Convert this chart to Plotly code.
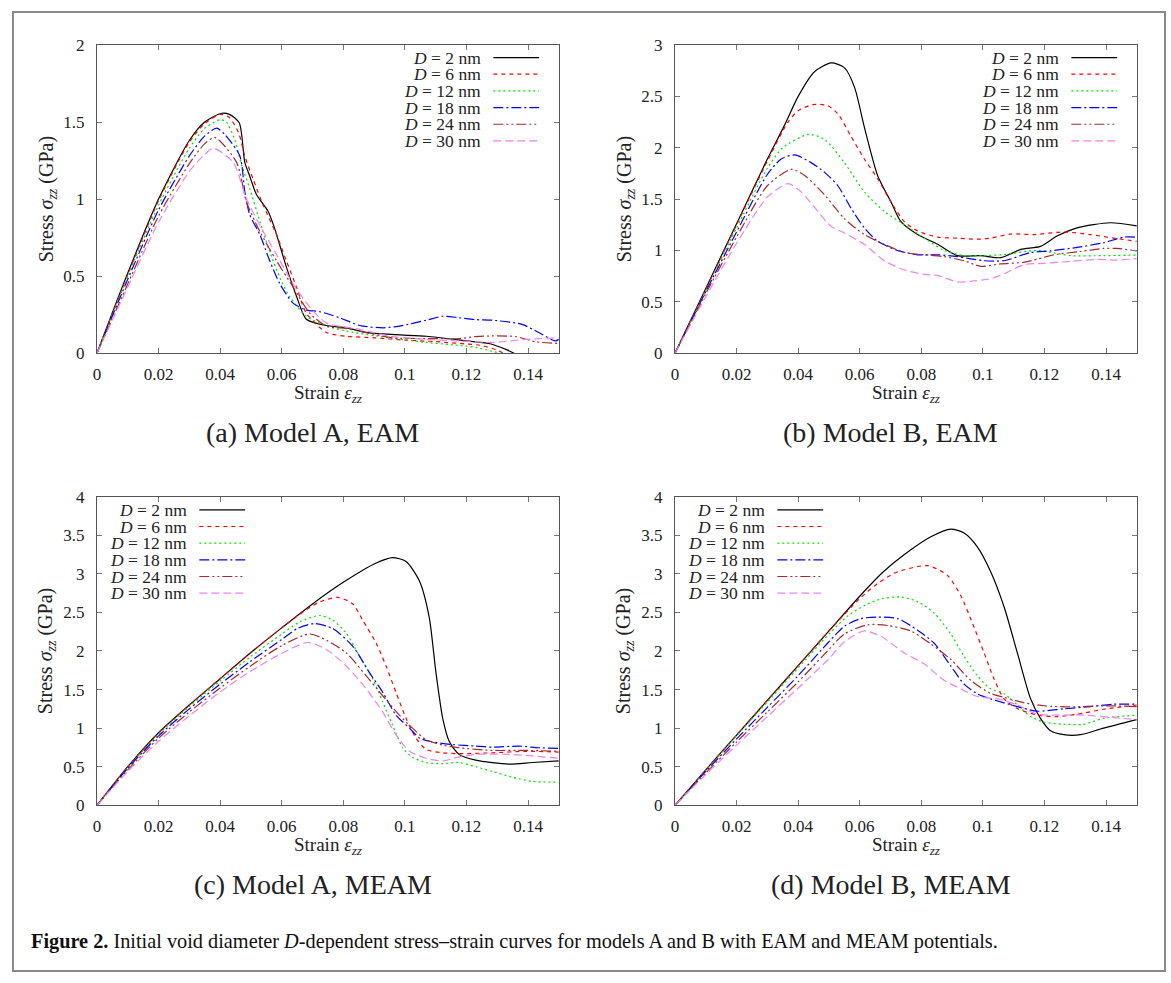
import plotly.graph_objects as go

# ---------------- data (strain, stress GPa) ----------------
labels = ["2", "6", "12", "18", "24", "30"]

a_d2 = [(0,0),(0.01,0.52),(0.02,1.0),(0.03,1.38),(0.035,1.50),(0.0405,1.557),(0.043,1.55),(0.0462,1.495),(0.048,1.24),(0.0496,1.15),(0.0518,1.03),(0.0556,0.92),(0.0577,0.81),(0.0615,0.56),(0.0648,0.37),(0.068,0.22),(0.0745,0.18),(0.081,0.165),(0.0874,0.135),(0.097,0.12),(0.107,0.11),(0.12,0.08),(0.128,0.06),(0.133,0.023),(0.1355,0)]
a_d6 = [(0,0),(0.01,0.51),(0.02,0.99),(0.03,1.37),(0.035,1.49),(0.04,1.55),(0.043,1.53),(0.046,1.43),(0.048,1.28),(0.0507,1.13),(0.054,0.96),(0.0583,0.77),(0.0615,0.60),(0.0648,0.43),(0.068,0.26),(0.0745,0.135),(0.081,0.11),(0.09,0.10),(0.1,0.085),(0.11,0.075),(0.12,0.06),(0.125,0.05),(0.13,0.02),(0.132,0)]
a_d12 = [(0,0),(0.01,0.50),(0.02,0.96),(0.03,1.33),(0.035,1.46),(0.040,1.515),(0.042,1.50),(0.0445,1.40),(0.047,1.22),(0.0496,1.07),(0.0529,0.855),(0.0561,0.66),(0.0594,0.49),(0.0626,0.367),(0.068,0.24),(0.0745,0.176),(0.081,0.144),(0.0907,0.112),(0.107,0.07),(0.118,0.05),(0.1231,0.038),(0.1285,0.012),(0.131,0)]
a_d18 = [(0,0),(0.01,0.48),(0.02,0.93),(0.03,1.28),(0.035,1.41),(0.0389,1.46),(0.0415,1.42),(0.0464,1.28),(0.048,1.05),(0.0496,0.90),(0.0529,0.77),(0.0561,0.60),(0.0594,0.45),(0.0637,0.325),(0.068,0.28),(0.0723,0.27),(0.0788,0.23),(0.0853,0.18),(0.0928,0.165),(0.0982,0.176),(0.1069,0.214),(0.1123,0.24),(0.1176,0.23),(0.123,0.218),(0.1284,0.214),(0.1381,0.187),(0.1435,0.134),(0.1489,0.08),(0.15,0.09)]
a_d24 = [(0,0),(0.01,0.45),(0.02,0.89),(0.03,1.23),(0.035,1.36),(0.0383,1.40),(0.0453,1.24),(0.0486,0.98),(0.0529,0.79),(0.0583,0.60),(0.0637,0.43),(0.0691,0.26),(0.0745,0.176),(0.081,0.16),(0.0874,0.134),(0.096,0.10),(0.1069,0.095),(0.1177,0.095),(0.123,0.108),(0.1284,0.112),(0.136,0.108),(0.1425,0.074),(0.15,0.064)]
a_d30 = [(0,0),(0.01,0.43),(0.02,0.85),(0.03,1.18),(0.035,1.29),(0.0378,1.33),(0.0442,1.24),(0.0486,1.0),(0.0529,0.83),(0.0583,0.64),(0.0637,0.45),(0.0691,0.30),(0.0745,0.197),(0.0853,0.155),(0.096,0.108),(0.1069,0.09),(0.1177,0.08),(0.1284,0.07),(0.1392,0.09),(0.15,0.10)]

b_d2 = [(0,0),(0.01,0.63),(0.02,1.26),(0.03,1.89),(0.0356,2.22),(0.040,2.50),(0.0453,2.74),(0.0507,2.825),(0.055,2.78),(0.0583,2.59),(0.0615,2.2),(0.0658,1.73),(0.0702,1.47),(0.0734,1.28),(0.0788,1.155),(0.0853,1.06),(0.0917,0.95),(0.0993,0.95),(0.1058,0.93),(0.1123,1.01),(0.1187,1.04),(0.1241,1.14),(0.1306,1.22),(0.1414,1.27),(0.15,1.24)]
b_d6 = [(0,0),(0.01,0.62),(0.02,1.25),(0.03,1.87),(0.0367,2.25),(0.040,2.36),(0.0448,2.42),(0.0496,2.41),(0.0529,2.33),(0.0572,2.11),(0.0615,1.89),(0.0658,1.70),(0.0702,1.47),(0.0745,1.28),(0.0788,1.19),(0.0853,1.13),(0.0917,1.12),(0.0982,1.11),(0.1025,1.12),(0.109,1.16),(0.1166,1.155),(0.1263,1.18),(0.1349,1.155),(0.1425,1.12),(0.15,1.09)]
b_d12 = [(0,0),(0.01,0.61),(0.02,1.22),(0.03,1.80),(0.035,2.0),(0.0434,2.13),(0.0486,2.08),(0.055,1.855),(0.0615,1.57),(0.068,1.38),(0.0745,1.25),(0.081,1.12),(0.0874,1.0),(0.0939,0.95),(0.1004,0.95),(0.1069,0.96),(0.1177,1.0),(0.1284,0.95),(0.1392,0.95),(0.15,0.955)]
b_d18 = [(0,0),(0.01,0.60),(0.02,1.18),(0.03,1.74),(0.0345,1.89),(0.0389,1.93),(0.0442,1.855),(0.0486,1.76),(0.0529,1.63),(0.0572,1.41),(0.0615,1.22),(0.0658,1.09),(0.0723,1.0),(0.0788,0.958),(0.0853,0.958),(0.0917,0.94),(0.1004,0.90),(0.1069,0.90),(0.1155,0.98),(0.122,0.996),(0.1306,1.03),(0.1392,1.075),(0.1457,1.13),(0.15,1.13)]
b_d24 = [(0,0),(0.01,0.58),(0.02,1.13),(0.03,1.63),(0.0378,1.79),(0.0421,1.73),(0.0486,1.54),(0.055,1.31),(0.0615,1.155),(0.068,1.06),(0.0745,0.98),(0.081,0.958),(0.0874,0.94),(0.0939,0.90),(0.0993,0.846),(0.1058,0.87),(0.1133,0.885),(0.1177,0.916),(0.123,0.958),(0.1317,0.99),(0.1392,1.02),(0.1435,1.02),(0.15,0.996)]
b_d30 = [(0,0),(0.01,0.55),(0.02,1.07),(0.03,1.52),(0.0367,1.65),(0.041,1.57),(0.0464,1.38),(0.0507,1.235),(0.055,1.17),(0.0615,1.06),(0.068,0.90),(0.0745,0.81),(0.081,0.767),(0.0853,0.757),(0.0917,0.694),(0.096,0.70),(0.1025,0.725),(0.1069,0.773),(0.1133,0.862),(0.1198,0.875),(0.1284,0.894),(0.1371,0.913),(0.1435,0.907),(0.15,0.92)]

c_d2 = [(0,0),(0.01,0.50),(0.02,0.94),(0.03,1.30),(0.04,1.64),(0.05,1.98),(0.06,2.30),(0.07,2.61),(0.08,2.89),(0.0907,3.14),(0.096,3.21),(0.1004,3.16),(0.1047,2.91),(0.1079,2.44),(0.1101,1.72),(0.1123,1.127),(0.1144,0.83),(0.1176,0.66),(0.123,0.585),(0.1338,0.534),(0.1414,0.555),(0.15,0.576)]
c_d6 = [(0,0),(0.01,0.50),(0.02,0.94),(0.03,1.30),(0.04,1.64),(0.05,1.98),(0.06,2.30),(0.066,2.48),(0.072,2.63),(0.0782,2.695),(0.0831,2.61),(0.0863,2.40),(0.0907,2.10),(0.0939,1.805),(0.0971,1.466),(0.1004,1.127),(0.1036,0.873),(0.1069,0.725),(0.1123,0.68),(0.1176,0.67),(0.1284,0.68),(0.1392,0.70),(0.15,0.69)]
c_d12 = [(0,0),(0.01,0.49),(0.02,0.92),(0.03,1.28),(0.04,1.61),(0.05,1.93),(0.06,2.22),(0.066,2.38),(0.0723,2.46),(0.0766,2.40),(0.081,2.23),(0.0853,1.93),(0.0896,1.636),(0.0928,1.34),(0.096,1.04),(0.0993,0.746),(0.1025,0.62),(0.1069,0.555),(0.1123,0.54),(0.1176,0.555),(0.123,0.50),(0.1284,0.44),(0.1349,0.364),(0.1414,0.31),(0.15,0.30)]
c_d18 = [(0,0),(0.01,0.48),(0.02,0.90),(0.03,1.25),(0.04,1.57),(0.05,1.87),(0.06,2.15),(0.065,2.29),(0.0707,2.356),(0.0766,2.29),(0.0831,2.06),(0.0885,1.72),(0.0928,1.466),(0.0971,1.17),(0.1015,1.0),(0.1047,0.873),(0.1079,0.83),(0.1155,0.788),(0.123,0.767),(0.1284,0.754),(0.1371,0.767),(0.1435,0.746),(0.15,0.737)]
c_d24 = [(0,0),(0.01,0.46),(0.02,0.87),(0.03,1.21),(0.04,1.52),(0.05,1.81),(0.06,2.07),(0.069,2.22),(0.0745,2.14),(0.081,1.975),(0.0874,1.68),(0.0928,1.42),(0.0982,1.17),(0.1025,1.0),(0.1069,0.85),(0.1123,0.78),(0.1176,0.746),(0.1284,0.712),(0.1392,0.712),(0.15,0.70)]
c_d30 = [(0,0),(0.01,0.44),(0.02,0.83),(0.03,1.16),(0.04,1.47),(0.05,1.74),(0.06,1.97),(0.0685,2.11),(0.0745,2.02),(0.081,1.805),(0.0874,1.51),(0.0928,1.21),(0.0971,0.915),(0.1015,0.70),(0.1069,0.61),(0.1123,0.576),(0.1176,0.627),(0.123,0.66),(0.1338,0.66),(0.1414,0.64),(0.15,0.61)]

d_d2 = [(0,0),(0.01,0.46),(0.02,0.91),(0.03,1.36),(0.04,1.81),(0.05,2.26),(0.06,2.71),(0.0675,3.02),(0.0745,3.25),(0.0831,3.48),(0.0896,3.58),(0.0939,3.53),(0.0982,3.35),(0.1025,3.03),(0.1069,2.57),(0.1112,1.975),(0.1155,1.38),(0.1187,1.127),(0.122,0.966),(0.1263,0.915),(0.1317,0.915),(0.1392,1.0),(0.15,1.11)]
d_d6 = [(0,0),(0.01,0.46),(0.02,0.91),(0.03,1.36),(0.04,1.81),(0.05,2.26),(0.06,2.68),(0.066,2.88),(0.072,3.02),(0.082,3.106),(0.0885,2.98),(0.0928,2.72),(0.0971,2.31),(0.1004,1.975),(0.1036,1.64),(0.1069,1.38),(0.1112,1.254),(0.1176,1.17),(0.1241,1.15),(0.1306,1.18),(0.1392,1.245),(0.15,1.30)]
d_d12 = [(0,0),(0.01,0.45),(0.02,0.90),(0.03,1.34),(0.04,1.78),(0.05,2.22),(0.056,2.45),(0.062,2.60),(0.0675,2.68),(0.0734,2.70),(0.0788,2.64),(0.0842,2.49),(0.0896,2.22),(0.0939,1.93),(0.0982,1.68),(0.1025,1.51),(0.1069,1.445),(0.1112,1.30),(0.1155,1.15),(0.1198,1.08),(0.1263,1.05),(0.1327,1.05),(0.1392,1.127),(0.15,1.17)]
d_d18 = [(0,0),(0.01,0.44),(0.02,0.86),(0.03,1.27),(0.04,1.68),(0.05,2.12),(0.055,2.32),(0.0604,2.42),(0.0658,2.44),(0.0723,2.42),(0.0788,2.27),(0.0842,2.10),(0.0896,1.805),(0.0939,1.57),(0.0982,1.445),(0.1025,1.38),(0.1112,1.28),(0.1176,1.22),(0.1263,1.25),(0.1349,1.28),(0.1425,1.31),(0.15,1.31)]
d_d24 = [(0,0),(0.01,0.42),(0.02,0.82),(0.03,1.21),(0.04,1.60),(0.05,2.02),(0.055,2.22),(0.0626,2.34),(0.0691,2.33),(0.0766,2.26),(0.0831,2.09),(0.0896,1.89),(0.096,1.62),(0.1025,1.45),(0.1069,1.40),(0.1133,1.33),(0.1198,1.29),(0.1284,1.275),(0.1392,1.29),(0.15,1.28)]
d_d30 = [(0,0),(0.01,0.40),(0.02,0.78),(0.03,1.15),(0.04,1.52),(0.05,1.90),(0.055,2.12),(0.0615,2.26),(0.0669,2.19),(0.0745,1.975),(0.081,1.83),(0.0874,1.62),(0.0928,1.51),(0.0982,1.41),(0.1047,1.38),(0.1112,1.30),(0.1176,1.18),(0.1241,1.17),(0.1327,1.17),(0.1414,1.14),(0.15,1.11)]

panel_curves = [
    [a_d2, a_d6, a_d12, a_d18, a_d24, a_d30],
    [b_d2, b_d6, b_d12, b_d18, b_d24, b_d30],
    [c_d2, c_d6, c_d12, c_d18, c_d24, c_d30],
    [d_d2, d_d6, d_d12, d_d18, d_d24, d_d30],
]
panel_titles = ["(a) Model A, EAM", "(b) Model B, EAM", "(c) Model A, MEAM", "(d) Model B, MEAM"]
y_max = [2, 3, 4, 4]
y_ticks = [[0, 0.5, 1, 1.5, 2], [0, 0.5, 1, 1.5, 2, 2.5, 3],
           [0, 0.5, 1, 1.5, 2, 2.5, 3, 3.5, 4], [0, 0.5, 1, 1.5, 2, 2.5, 3, 3.5, 4]]
x_ticks = [0, 0.02, 0.04, 0.06, 0.08, 0.1, 0.12, 0.14]

# ---------------- styles ----------------
colors = ["#000000", "#ff0000", "#00e000", "#0000ff", "#a52a2a", "#ee82ee"]
dashes = ["solid", "4px,4px", "2px,3px", "10px,3px,2px,3px", "10px,3px,2px,3px,2px,3px", "8px,4px"]

W, H = 1171, 983
SERIF = "Liberation Serif"


def px(x):
    return x / W


def py(y):
    return 1 - y / H


# panel pixel boxes: left, right, top, bottom
boxes = [(93.3, 556.7, 36.7, 351), (673.3, 1136.7, 36.7, 351),
         (93.3, 556.7, 497.3, 812), (673.3, 1136.7, 497.3, 812)]
# legend: text right edge, line start, line end, first row y
legend_pos = [(481, 491, 537, 49.5), (1061, 1071, 1117, 49.5),
              (186, 196, 242, 510.7), (766, 776, 822, 510.7)]
legend_dy = 17

fig = go.Figure()
shapes = []
annotations = []

for p in range(4):
    ax = "" if p == 0 else str(p + 1)
    L, R, T, B = boxes[p]
    fig.update_layout(**{
        "xaxis" + ax: dict(domain=[px(L), px(R)], range=[0, 0.15], anchor="y" + ax,
                           tickvals=x_ticks, ticks="inside", ticklen=5, tickcolor="#777",
                           showline=True, linecolor="#555", linewidth=1, mirror="ticks",
                           showgrid=False, zeroline=False,
                           tickfont=dict(family=SERIF, size=17, color="#222"),
                           ticklabelstandoff=5),
        "yaxis" + ax: dict(domain=[py(B), py(T)], range=[0, y_max[p]], anchor="x" + ax,
                           tickvals=y_ticks[p], ticks="inside", ticklen=5, tickcolor="#777",
                           showline=True, linecolor="#555", linewidth=1, mirror="ticks",
                           showgrid=False, zeroline=False,
                           tickfont=dict(family=SERIF, size=17, color="#222"),
                           ticklabelstandoff=8),
    })
    for i, curve in enumerate(panel_curves[p]):
        fig.add_trace(go.Scatter(
            x=[pt[0] for pt in curve], y=[pt[1] for pt in curve],
            mode="lines", xaxis="x" + ax, yaxis="y" + ax,
            line=dict(color=colors[i], width=1.2, dash=dashes[i], shape="spline", smoothing=0.7),
            showlegend=False, hoverinfo="skip"))
    # manual legend (text left of sample line, as in the original)
    tx, l0, l1, y0 = legend_pos[p]
    for i, lab in enumerate(labels):
        yy = y0 + i * legend_dy
        annotations.append(dict(text="<i>D</i> = " + lab + " nm", x=px(tx), y=py(yy),
                                xref="paper", yref="paper", xanchor="right", yanchor="middle",
                                showarrow=False, font=dict(family=SERIF, size=17.5, color="#222")))
        shapes.append(dict(type="line", xref="paper", yref="paper", x0=px(l0), x1=px(l1),
                           y0=py(yy), y1=py(yy),
                           line=dict(color=colors[i], width=1.2, dash=dashes[i])))
    # axis titles
    cx = (L + R) / 2
    annotations.append(dict(text="Strain <i>ε</i><sub><i>zz</i></sub>", x=px(cx), y=py(B + 42),
                            xref="paper", yref="paper", xanchor="center", yanchor="middle",
                            showarrow=False, font=dict(family=SERIF, size=19, color="#222")))
    annotations.append(dict(text="Stress <i>σ</i><sub><i>zz</i></sub> (GPa)", x=px(L - 50),
                            y=py((T + B) / 2), xref="paper", yref="paper", textangle=-90,
                            xanchor="center", yanchor="middle", showarrow=False,
                            font=dict(family=SERIF, size=20, color="#222")))
    annotations.append(dict(text=panel_titles[p], x=px(cx - 15), y=py(B + 81),
                            xref="paper", yref="paper", xanchor="center", yanchor="middle",
                            showarrow=False, font=dict(family=SERIF, size=28, color="#222")))

# figure caption
annotations.append(dict(text="<b>Figure 2.</b> Initial void diameter <i>D</i>-dependent stress–strain curves for models A and B with EAM and MEAM potentials.",
                        x=px(25), y=py(951), xref="paper", yref="paper", xanchor="left",
                        yanchor="middle", showarrow=False,
                        font=dict(family=SERIF, size=20.3, color="#111")))
# outer frame
shapes.append(dict(type="rect", xref="paper", yref="paper", x0=px(9), x1=px(1165),
                   y0=py(981), y1=py(3), line=dict(color="#8a8a8a", width=2)))

fig.update_layout(width=W, height=H, autosize=False,
                  margin=dict(l=0, r=0, t=0, b=0),
                  paper_bgcolor="white", plot_bgcolor="white",
                  shapes=shapes, annotations=annotations, showlegend=False)

fig.write_html("out.html", config={"displayModeBar": False},
               post_script="document.body.style.margin='0';")
